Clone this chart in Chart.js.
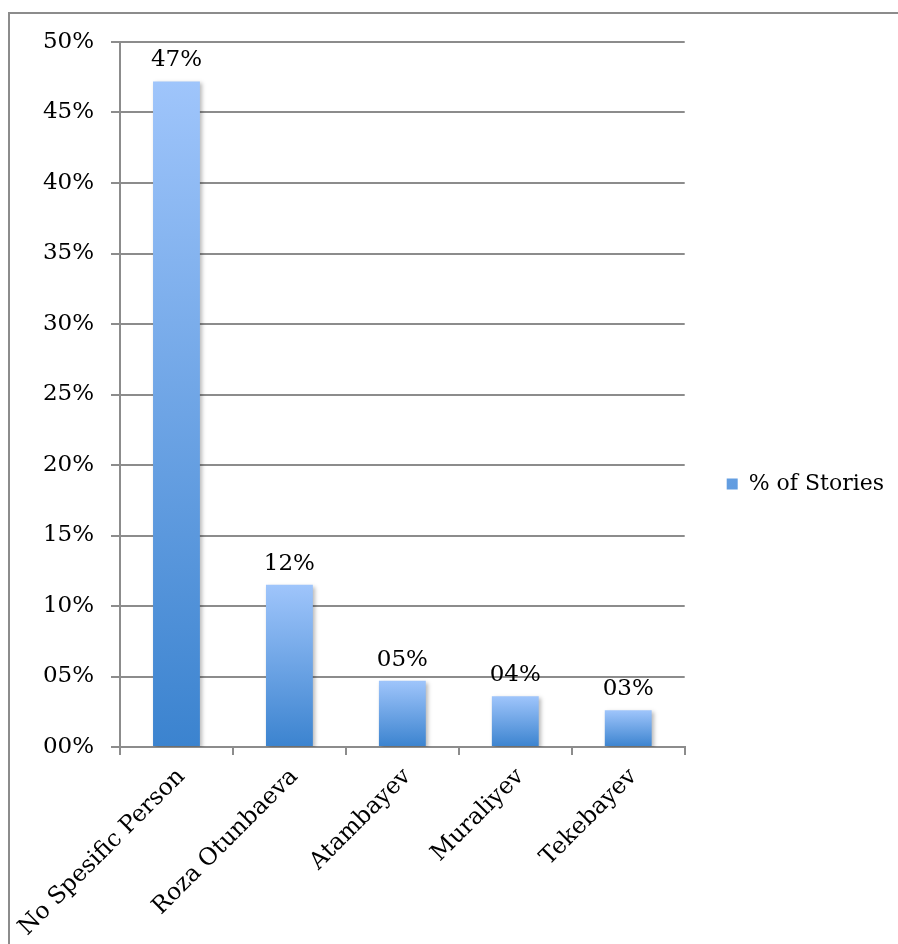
<!DOCTYPE html>
<html>
<head>
<meta charset="utf-8">
<script src="https://cdn.jsdelivr.net/npm/chart.js@4.4.1/dist/chart.umd.min.js"></script>
<style>
  html, body { margin: 0; padding: 0; background: #fff; overflow: hidden; }
  #chart { display: block; }
</style>
</head>
<body>
<canvas id="chart" width="898" height="944"></canvas>
<script>
const categories = ['No Spesific Person', 'Roza Otunbaeva', 'Atambayev', 'Muraliyev', 'Tekebayev'];
const shareOfStories = [0.472, 0.115, 0.047, 0.036, 0.026];
const seriesName = '% of Stories';
const yTicks = { min: 0, max: 0.5, step: 0.05 };

const FONT = 'DejaVu Serif';
const GRID = '#8c8c8c';

// two digit percentage, e.g. 0.05 -> "05%"
const pct = v => String(Math.round(v * 100)).padStart(2, '0') + '%';

// each bar fades from light blue at its top to a deeper blue at the axis
const barFill = (ctx) => {
  if (ctx.type !== 'data') return '#6ca2e8';
  const chart = ctx.chart;
  if (!chart.chartArea) return '#6ca2e8';
  const y = chart.scales.y;
  const g = chart.ctx.createLinearGradient(0, y.getPixelForValue(ctx.raw), 0, y.getPixelForValue(0));
  g.addColorStop(0, '#9fc5fb');
  g.addColorStop(1, '#3b83cf');
  return g;
};

// outer frame of the chart object (its right and bottom sides run off the page)
const frame = {
  id: 'frame',
  beforeDraw(chart) {
    const c = chart.ctx;
    c.save();
    c.strokeStyle = GRID;
    c.lineWidth = 2;
    c.beginPath();
    c.moveTo(9, chart.height);
    c.lineTo(9, 13);
    c.lineTo(chart.width, 13);
    c.stroke();
    c.restore();
  }
};

// soft drop shadow behind the bars
const barShadow = {
  id: 'barShadow',
  beforeDatasetDraw(chart) {
    const c = chart.ctx;
    c.save();
    c.shadowColor = 'rgba(0,0,0,0.28)';
    c.shadowBlur = 4;
    c.shadowOffsetX = 2;
    c.shadowOffsetY = 2;
  },
  afterDatasetDraw(chart) {
    chart.ctx.restore();
  }
};

// percentage written above every bar
const valueLabels = {
  id: 'valueLabels',
  afterDatasetsDraw(chart) {
    const c = chart.ctx;
    const meta = chart.getDatasetMeta(0);
    c.save();
    c.font = '23px "' + FONT + '"';
    c.fillStyle = '#000';
    c.textAlign = 'center';
    c.textBaseline = 'alphabetic';
    meta.data.forEach((bar, i) => {
      c.fillText(pct(shareOfStories[i]), bar.x, bar.y - 15);
    });
    c.restore();
  }
};

new Chart(document.getElementById('chart'), {
  type: 'bar',
  data: {
    labels: categories,
    datasets: [{
      label: seriesName,
      data: shareOfStories,
      backgroundColor: barFill,
      borderWidth: 0,
      categoryPercentage: 1,
      barPercentage: 0.415
    }]
  },
  options: {
    responsive: false,
    animation: false,
    devicePixelRatio: 1,
    layout: { padding: { top: 24, right: 4, bottom: 0, left: 0 } },
    plugins: {
      tooltip: { enabled: false },
      legend: {
        position: 'right',
        labels: {
          boxWidth: 11,
          boxHeight: 11,
          padding: 42,
          color: '#000',
          font: { family: FONT, size: 22 }
        }
      }
    },
    scales: {
      x: {
        grid: { offset: true, drawOnChartArea: false, drawTicks: true, tickLength: 8, color: GRID, lineWidth: 2 },
        border: { display: true, color: GRID, width: 2 },
        ticks: {
          autoSkip: false,
          minRotation: 45,
          maxRotation: 45,
          padding: 8,
          labelOffset: 5,
          color: '#000',
          font: { family: FONT, size: 23.5 }
        },
        afterFit(scale) {
          scale.height = 197;
          scale.paddingLeft = 0;
          scale.paddingRight = 0;
        }
      },
      y: {
        min: yTicks.min,
        max: yTicks.max,
        grid: { color: GRID, lineWidth: 2, tickLength: 9 },
        border: { display: true, color: GRID, width: 2 },
        ticks: {
          stepSize: yTicks.step,
          padding: 17,
          color: '#000',
          font: { family: FONT, size: 23 },
          callback: v => pct(v)
        },
        afterFit(scale) {
          scale.width = 120;
          scale.paddingTop = 42;
        }
      }
    }
  },
  plugins: [frame, barShadow, valueLabels]
});
</script>
</body>
</html>
